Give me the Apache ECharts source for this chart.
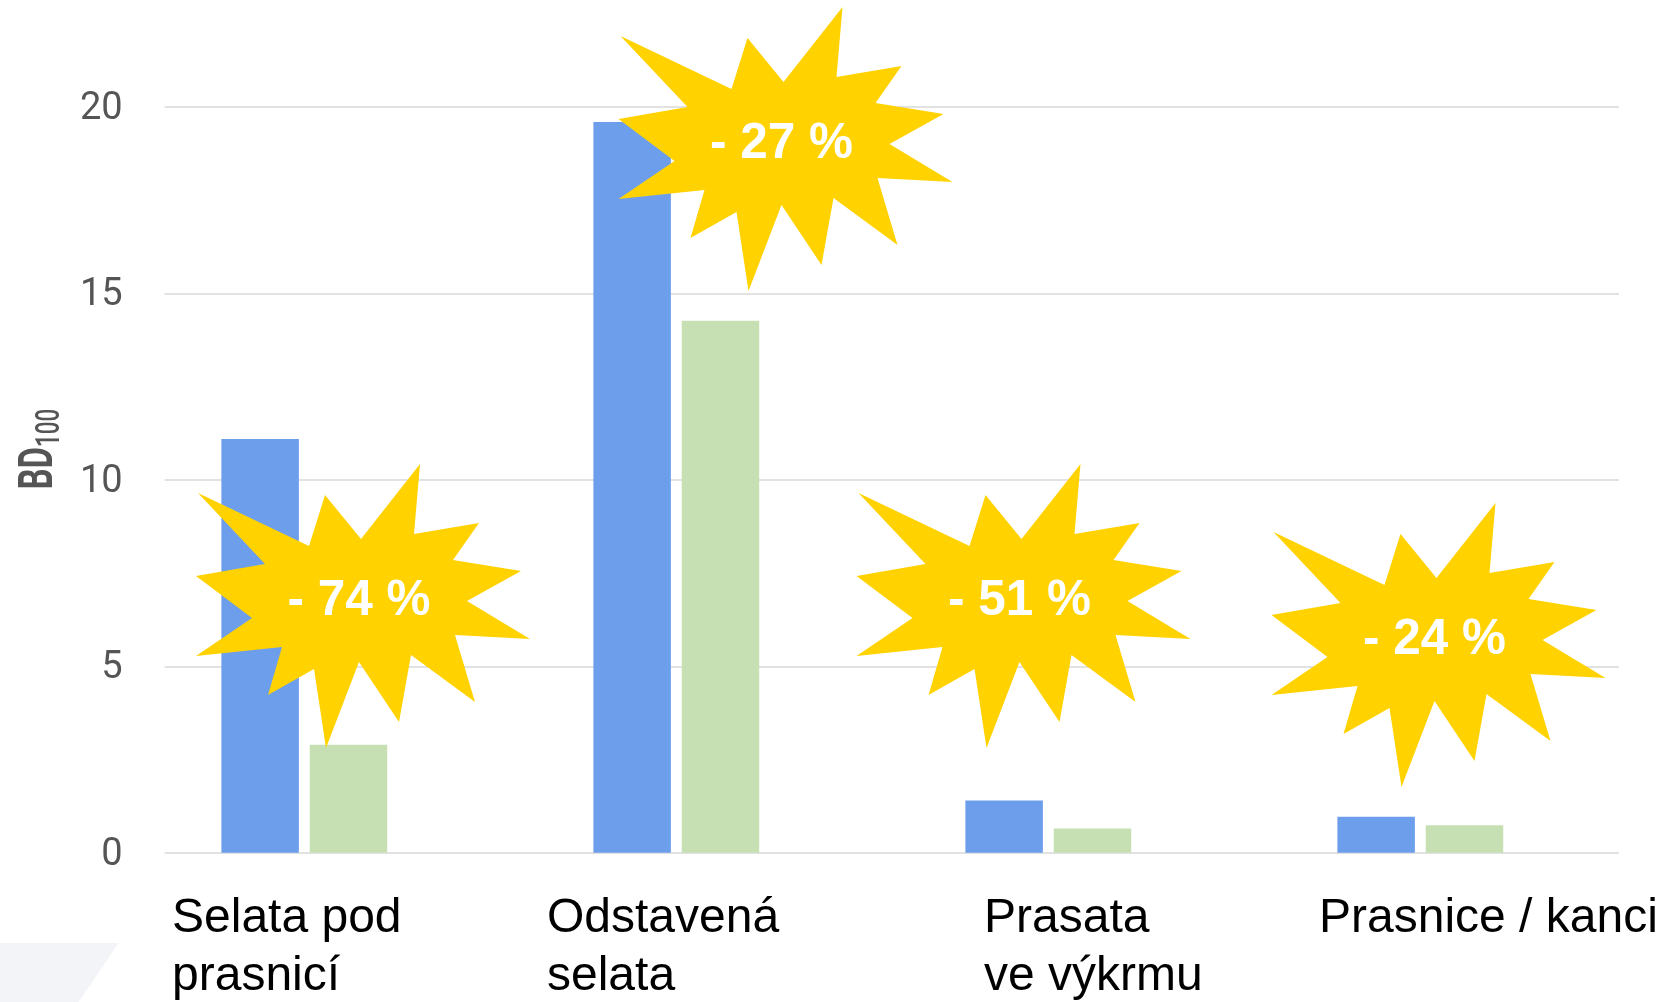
<!DOCTYPE html>
<html>
<head>
<meta charset="utf-8">
<style>html,body{margin:0;padding:0;background:#fff}#chart{width:1665px;height:1002px}</style>
<script src="https://cdn.jsdelivr.net/npm/echarts@6/dist/echarts.min.js"></script>
</head>
<body>
<div id="chart"></div>
<script>
// Antibiotic use (BD100) per pig category, before and after, with the reduction in each burst.
const categories = ['Selata pod\nprasnicí', 'Odstavená\nselata', 'Prasata\nve výkrmu', 'Prasnice / kanci'];
const valuesBefore = [11.1, 19.6, 1.4, 0.97];
const valuesAfter = [2.9, 14.27, 0.65, 0.74];
const reductions = ['- 74 %', '- 27 %', '- 51 %', '- 24 %'];

// Outline of the burst, relative to its own label centre.
const burstOutline = [
  [-161, -105], [-50, -52], [-34, -103], [2, -59], [61, -134], [55, -64], [120, -75], [94, -38],
  [162, -27], [108, 3], [171, 41], [96, 37], [116, 104], [52, 57], [40, 124], [0, 64],
  [-33, 150], [-45, 71], [-91, 97], [-77, 49], [-163, 58], [-107, 20], [-163, -22], [-94, -34]
];
const burstCentres = [[359, 598], [781.5, 141], [1019.5, 598], [1434.5, 637]];
const labelAnchors = [[172, 890], [547, 890], [984, 890], [1319, 890]];

const chart = echarts.init(document.getElementById('chart'), null, { renderer: 'canvas' });

const gridTop = 107, gridBottom = 149.2;

const bursts = burstCentres.flatMap((c, i) => [
  {
    type: 'polygon', x: c[0], y: c[1], z: 10,
    shape: { points: burstOutline },
    style: { fill: '#ffd200' }
  },
  {
    type: 'text', x: c[0], y: c[1] + 3, z: 11,
    style: {
      text: reductions[i], fill: '#fff', align: 'center', verticalAlign: 'middle',
      font: 'bold 49.5px "Liberation Sans", Arial, sans-serif'
    }
  }
]);

const categoryLabels = categories.map((name, i) => ({
  type: 'text', x: labelAnchors[i][0], y: labelAnchors[i][1], z: 9,
  style: {
    text: name, fill: '#000', align: 'left', verticalAlign: 'top', lineHeight: 58,
    font: '48px "Liberation Sans", Arial, sans-serif'
  }
}));

chart.setOption({
  animation: false,
  backgroundColor: '#fff',
  // First grid carries the value axis and rules, second one the bar groups.
  grid: [
    { left: 164.6, right: 46, top: gridTop, bottom: gridBottom },
    { left: 118.3, right: 58.7, top: gridTop, bottom: gridBottom }
  ],
  xAxis: [
    { gridIndex: 0, type: 'category', data: categories, show: false },
    { gridIndex: 1, type: 'category', data: categories, show: false }
  ],
  yAxis: [
    {
      gridIndex: 0, type: 'value', min: 0, max: 20, interval: 5,
      axisLine: { show: false }, axisTick: { show: false },
      axisLabel: {
        margin: 42,
        formatter: '{tick|{value}}',
        rich: {
          tick: { color: '#555', fontSize: 38, fontFamily: 'Roboto, sans-serif', padding: [5, 0, 0, 0] }
        }
      },
      splitLine: { show: true, lineStyle: { color: '#e2e2e2', width: 2 } }
    },
    { gridIndex: 1, type: 'value', min: 0, max: 20, interval: 5, show: false }
  ],
  series: [
    {
      type: 'bar', xAxisIndex: 1, yAxisIndex: 1, data: valuesBefore,
      barWidth: 77.5, barGap: '14%', itemStyle: { color: '#6d9eeb' }, z: 3
    },
    {
      type: 'bar', xAxisIndex: 1, yAxisIndex: 1, data: valuesAfter,
      barWidth: 77.5, barGap: '14%', itemStyle: { color: '#c6e0b4' }, z: 3
    }
  ],
  graphic: [
    {
      type: 'polygon', z: -1,
      shape: { points: [[0, 943], [118.6, 943], [78.6, 1002], [0, 1002]] },
      style: { fill: '#f3f4f8' }
    },
    {
      type: 'text', x: 67, y: 449, rotation: Math.PI / 2, scaleX: 0.68, z: 9,
      style: {
        rich: {
          main: { font: '700 48px Roboto, sans-serif', fill: '#555' },
          sub: { font: '500 33px Roboto, sans-serif', fill: '#555', padding: [21, 0, 0, 0] }
        },
        text: '{main|BD}{sub|100}',
        align: 'center', verticalAlign: 'bottom'
      }
    },
    ...categoryLabels,
    ...bursts
  ]
});
</script>
</body>
</html>
